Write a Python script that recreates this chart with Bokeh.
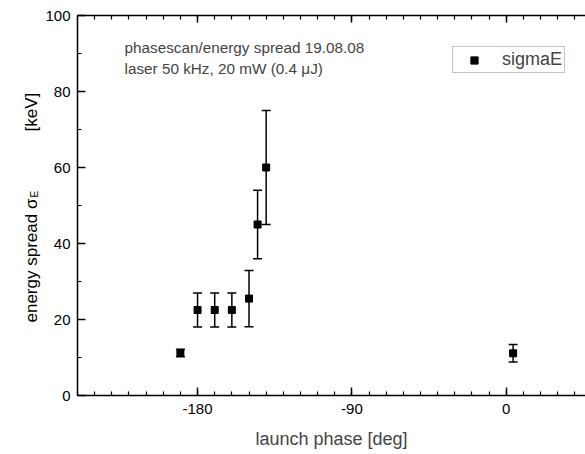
from bokeh.plotting import figure
from bokeh.layouts import row
from bokeh.models import (ColumnDataSource, Whisker, TeeHead, Label, LinearAxis,
                          Range1d, SingleIntervalTicker, Legend, LegendItem)
from bokeh.core.properties import value
from bokeh.embed import file_html
from bokeh.resources import INLINE
import math

# data
phase = [-190, -180, -170, -160, -150, -145, -140, 4]
sigmaE = [11.2, 22.5, 22.5, 22.5, 25.5, 45.0, 60.0, 11.1]
err = [1.0, 4.5, 4.5, 4.5, 7.4, 9.0, 15.0, 2.3]

x_ticks = [-180, -90, 0]
y_ticks = [0, 20, 40, 60, 80, 100]
title_lines = ["phasescan/energy spread 19.08.08", "laser 50 kHz, 20 mW (0.4 \u03bcJ)"]
ylab_parts = ["energy spread \u03c3", "E", "[keV]"]

FONT = "Liberation Sans"
LAB_W = 42  # width of the strip holding the rotated y label

src = ColumnDataSource(dict(
    x=phase, y=sigmaE,
    lo=[v - e for v, e in zip(sigmaE, err)],
    hi=[v + e for v, e in zip(sigmaE, err)],
))

p = figure(width=585 - LAB_W, height=454, output_backend="svg", toolbar_location=None,
           x_range=Range1d(-250, 46.2), y_range=Range1d(0, 100),
           min_border_left=77 - LAB_W, min_border_right=0, min_border_top=15, min_border_bottom=59)
p.outline_line_color = None
p.grid.visible = False

for ax in (p.xaxis[0], p.yaxis[0]):
    ax.axis_line_width = 1.5
    ax.axis_line_color = "black"
    ax.major_tick_in = 8
    ax.major_tick_out = 0
    ax.minor_tick_in = 4
    ax.minor_tick_out = 0
    ax.major_tick_line_color = "black"
    ax.minor_tick_line_color = "black"
    ax.major_tick_line_width = 1.5
    ax.minor_tick_line_width = 1.2
    ax.major_label_text_font = FONT
    ax.major_label_text_font_size = "15px"
    ax.major_label_text_color = "black"
    ax.major_label_standoff = 8
p.yaxis[0].major_label_standoff = 7

p.xaxis[0].ticker = SingleIntervalTicker(interval=90, num_minor_ticks=9)
p.xaxis[0].major_label_overrides = {t: str(t) for t in x_ticks}
p.yaxis[0].ticker = SingleIntervalTicker(interval=20, num_minor_ticks=2)
p.xaxis[0].axis_label = "launch phase [deg]"
p.xaxis[0].axis_label_text_font = FONT
p.xaxis[0].axis_label_text_font_size = "18px"
p.xaxis[0].axis_label_text_font_style = "normal"
p.xaxis[0].axis_label_standoff = 12

top = LinearAxis(ticker=SingleIntervalTicker(interval=90, num_minor_ticks=9),
                 axis_line_width=1.5, major_tick_in=7, major_tick_out=0,
                 minor_tick_in=4, minor_tick_out=0, major_tick_line_width=1.5,
                 minor_tick_line_width=1.2, major_label_text_color=None,
                 major_label_text_font_size="1px", major_label_standoff=0)
p.add_layout(top, "above")

wh = Whisker(base="x", lower="lo", upper="hi", source=src, line_color="black", line_width=1.5,
             lower_head=TeeHead(size=9, line_width=1.5, line_color="black"),
             upper_head=TeeHead(size=9, line_width=1.5, line_color="black"))
p.add_layout(wh)
r = p.scatter("x", "y", source=src, marker="square", size=7, fill_color="black", line_color="black")

legend = Legend(items=[LegendItem(label="sigmaE", renderers=[r])],
                location=(375, 322), label_text_font=FONT, label_text_font_size="18px",
                glyph_width=38, glyph_height=18, label_height=18, label_standoff=9,
                padding=2, spacing=0, margin=0,
                border_line_color="#888888", border_line_width=1,
                background_fill_alpha=1.0)
p.add_layout(legend)

def px2x(px):
    return (px - 77) / 1.7148 - 250

def px2y(py):
    return (395 - py) / 3.8

p.add_layout(Label(x=px2x(124), y=px2y(47), text=title_lines[0], text_font=FONT,
                   text_font_size="15.3px", text_baseline="alphabetic"))
p.add_layout(Label(x=px2x(124), y=px2y(68), text=title_lines[1], text_font=FONT,
                   text_font_size="15.3px", text_baseline="alphabetic"))

# strip with the rotated y-axis label; its frame is aligned with the main frame
lab = figure(frame_width=LAB_W, frame_height=380, output_backend="svg", toolbar_location=None,
             x_range=Range1d(0, LAB_W), y_range=Range1d(0, 100),
             min_border_left=0, min_border_right=0, min_border_top=15, min_border_bottom=59,
             outline_line_color=None)
lab.axis.visible = False
lab.grid.visible = False
lab_src = ColumnDataSource(dict(
    x=[31, 34, 31],
    y=[px2y(322), px2y(197), px2y(131)],
    text=ylab_parts,
    size=["17px", "10px", "17px"],
))
lab.text(x="x", y="y", text="text", source=lab_src, angle=math.pi / 2,
         text_font=value(FONT), text_font_size="size", text_baseline="alphabetic",
         text_align="left", text_color="black")

layout = row(lab, p, spacing=0)
open("out.html", "w").write(file_html(layout, INLINE))
